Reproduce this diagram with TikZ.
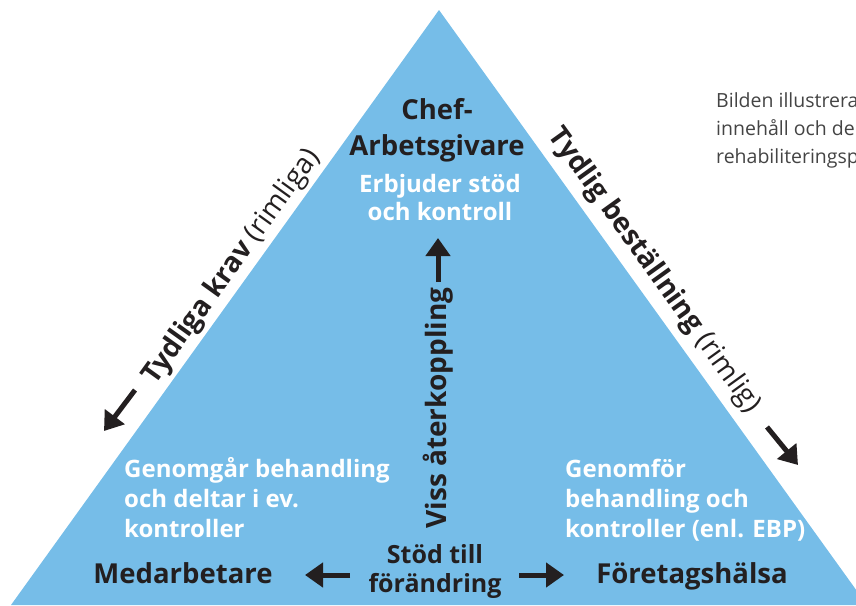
\documentclass[tikz,border=0pt]{standalone}
\usepackage{fontspec}
\setmainfont{Open Sans}
\usepackage{xcolor}
\usepackage{tikz}
\usetikzlibrary{arrows.meta}
\definecolor{triblue}{HTML}{76BDE8}
\definecolor{ink}{HTML}{231F20}
\definecolor{notegray}{HTML}{444444}

\begin{document}
\begin{tikzpicture}[x=1pt,y=-1pt,
    role/.style={font=\fontsize{27.5}{36}\selectfont\bfseries,text=ink,align=center,inner sep=0pt},
    task/.style={font=\fontsize{24}{30}\selectfont\bfseries,text=white,inner sep=0pt},
    flow/.style={font=\fontsize{25}{29}\selectfont\bfseries,text=ink,align=center,inner sep=0pt},
    edgelabel/.style={font=\fontsize{28}{30}\selectfont,text=ink,sloped,inner sep=0pt},
    bigarrow/.style={line width=5pt,draw=ink,-{Triangle[length=18pt,width=24pt]}}]
  \useasboundingbox (0,0) rectangle (856,605);
  \clip (0,0) rectangle (856,605);
  \coordinate (apex) at (439,10);
  \coordinate (bl) at (11,605);
  \coordinate (br) at (867,605);
  \fill[triblue] (apex) -- (br) -- (bl) -- cycle;

  % roles
  \node [role, anchor=base] (chef) at (437,155) {Chef-\\Arbetsgivare};
  \node [task, align=center, font=\fontsize{24}{28}\selectfont\bfseries, anchor=base] (offer) at (440,220) {Erbjuder stöd\\och kontroll};
  \node [role, anchor=base] (med) at (183,583) {Medarbetare};
  \node [role, anchor=base] (ftg) at (692,583) {Företagshälsa};
  \node [task, align=left, anchor=base west] (medtask) at (124,537) {Genomgår behandling\\och deltar i ev.\\kontroller};
  \node [task, align=left, anchor=base west] (ftgtask) at (565,537) {Genomför\\behandling och\\kontroller (enl. EBP)};
  \node [flow, anchor=base] (change) at (435,592) {Stöd till\\förändring};

  % feedback
  \node [flow, font=\fontsize{28}{29}\selectfont\bfseries, rotate=90] (fb) at (438,408) {Viss återkoppling};
  \coordinate (fbtail) at (438,282);
  \coordinate (fbtip) at (438,238);
  \draw [bigarrow] (fbtail) -- (fbtip);
  \coordinate (mtail) at (350,575);
  \coordinate (mtip) at (305,575);
  \draw [bigarrow] (mtail) -- (mtip);
  \coordinate (ftail) at (519,575);
  \coordinate (ftip) at (564,575);
  \draw [bigarrow] (ftail) -- (ftip);

  % edges
  \path (bl) -- (apex) node [edgelabel, pos=0.55, above=4pt] (krav) {\textbf{Tydliga krav} (rimliga)};
  \path (apex) -- (br) node [edgelabel, pos=0.46, above=8pt] (best) {\textbf{Tydlig beställning} (rimlig)};
  \coordinate (ktail) at (135,390);
  \coordinate (ktip) at (104,431);
  \draw [bigarrow] (ktail) -- (ktip);
  \coordinate (btail) at (767,427);
  \coordinate (btip) at (798,465);
  \draw [bigarrow] (btail) -- (btip);

  \node [font=\fontsize{19.5}{28}\selectfont, text=notegray, align=left, anchor=base west, inner sep=0pt] (note) at (716,163) {Bilden illustrera\\innehåll och de\\rehabiliteringsp};
\end{tikzpicture}
\end{document}
